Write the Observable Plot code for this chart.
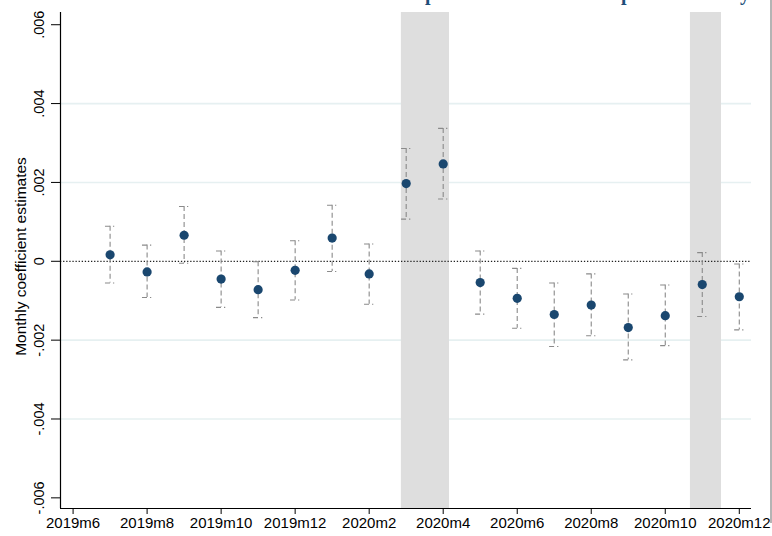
<!DOCTYPE html>
<html><head><meta charset="utf-8">
<script src="https://cdn.jsdelivr.net/npm/d3@7"></script>
<script src="https://cdn.jsdelivr.net/npm/@observablehq/plot@0.6"></script>
<style>
body{margin:0;background:#fff;}
#wrap{position:relative;width:772px;height:536px;overflow:hidden;background:#fff;}
#chart{position:absolute;left:0;top:0;}
#clip{position:absolute;left:0;top:0;width:772px;height:6px;overflow:hidden;}
#clip span{position:absolute;top:-17px;font:bold 20px "Liberation Serif","DejaVu Serif",serif;line-height:20px;color:#1f4e79;}
#edge{position:absolute;left:770px;top:0;width:1.5px;height:523px;background:#b4b4b4;}
</style></head>
<body><div id="wrap"><div id="chart"></div>
<div id="clip"><span style="left:425px">p</span><span style="left:621px">p</span><span style="left:740px">y</span></div>
<div id="edge"></div></div>
<script>
// x-axis ticks (month index, 0 = 2019m6)
const tickMonths = [0, 2, 4, 6, 8, 10, 12, 14, 16, 18];
const tickLabels = ["2019m6","2019m8","2019m10","2019m12","2020m2","2020m4","2020m6","2020m8","2020m10","2020m12"];
// y-axis ticks
const yTicks = [-0.006, -0.004, -0.002, 0, 0.002, 0.004, 0.006];
const yTickLabels = ["-.006","-.004","-.002","0",".002",".004",".006"];
const gridValues = [-0.004, -0.002, 0.002, 0.004];
// estimates
const monthIndex = [1,2,3,4,5,6,7,8,9,10,11,12,13,14,15,16,17,18];
const coef  = [0.000165,-0.00027,0.00066,-0.00045,-0.00072,-0.00023,0.00059,-0.00032,0.00197,0.00247,-0.00054,-0.00094,-0.00135,-0.00111,-0.00168,-0.00138,-0.00059,-0.00090];
const upper = [0.00089,0.00041,0.00139,0.00026,-0.00001,0.00052,0.00142,0.00044,0.00286,0.00337,0.00026,-0.00018,-0.00055,-0.00032,-0.00083,-0.00060,0.00022,-0.00007];
const lower = [-0.00055,-0.00092,-0.00005,-0.00117,-0.00143,-0.00098,-0.00026,-0.00109,0.00107,0.00158,-0.00134,-0.00170,-0.00216,-0.00189,-0.00250,-0.00214,-0.00140,-0.00174];
// shaded periods (month index)
const bandStart = [8.87, 16.68];
const bandEnd   = [10.17, 17.52];
const yTitle = "Monthly coefficient estimates";

const data = monthIndex.map((m, i) => ({m, c: coef[i], hi: upper[i], lo: lower[i]}));
const bands = bandStart.map((s, i) => ({s, e: bandEnd[i]}));
const xDomain = [-0.34, 18.33];
const yDomain = [-0.00627, 0.00631];
const capHalf = 0.125;

const chart = Plot.plot({
  width: 772, height: 536,
  marginLeft: 60, marginRight: 21, marginTop: 12, marginBottom: 28,
  style: {fontFamily: "'Liberation Sans', Arial, sans-serif", background: "transparent"},
  x: {type: "linear", domain: xDomain},
  y: {domain: yDomain},
  marks: [
    Plot.ruleY(gridValues, {stroke: "#e6f0f1", strokeWidth: 1.6}),
    Plot.rect(bands, {x1: "s", x2: "e", fill: "#dedede"}),
    Plot.ruleY([0], {stroke: "#222", strokeWidth: 1.3, strokeDasharray: "1.3,1.8"}),
    Plot.ruleX(data, {x: "m", y1: "hi", y2: "lo", stroke: "#8a8a8a", strokeWidth: 1.1, strokeDasharray: "5,3"}),
    Plot.ruleY(data, {y: "hi", x1: d => d.m - capHalf, x2: d => d.m + capHalf, stroke: "#8a8a8a", strokeWidth: 1.1, strokeDasharray: "5,3"}),
    Plot.ruleY(data, {y: "lo", x1: d => d.m - capHalf, x2: d => d.m + capHalf, stroke: "#8a8a8a", strokeWidth: 1.1, strokeDasharray: "5,3"}),
    Plot.dot(data, {x: "m", y: "c", r: 4.6, fill: "#1a476f", stroke: "none"}),
    Plot.ruleX([xDomain[0]], {stroke: "#000", strokeWidth: 1.2}),
    Plot.ruleY([yDomain[0]], {stroke: "#000", strokeWidth: 1.2}),
    Plot.axisX({ticks: tickMonths, tickFormat: v => tickLabels[tickMonths.indexOf(v)], tickSize: 6, tickPadding: 3, fontSize: 15, label: null}),
    Plot.axisY({ticks: yTicks, tickFormat: v => yTickLabels[yTicks.indexOf(v)], tickSize: 9, tickRotate: -90, tickPadding: 8, fontSize: 14.5, label: null}),
    Plot.text([yTitle], {frameAnchor: "left", textAnchor: "middle", lineAnchor: "bottom", dx: -35, dy: -4, rotate: -90, fontSize: 15.5, fill: "#000"})
  ]
});
document.getElementById("chart").appendChild(chart);
</script>
</body></html>
